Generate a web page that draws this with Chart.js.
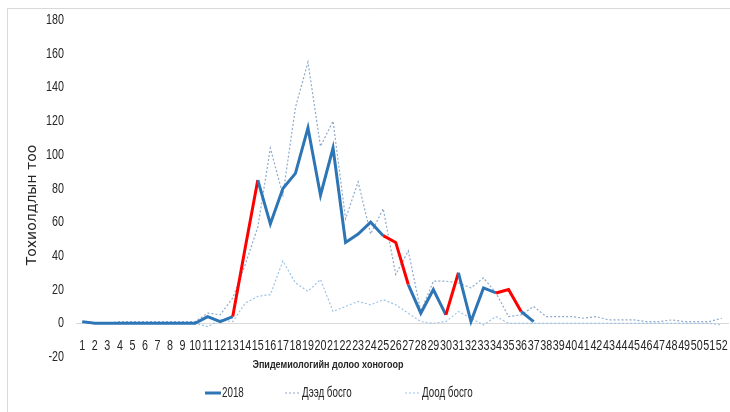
<!DOCTYPE html>
<html>
<head>
<meta charset="utf-8">
<script src="https://cdn.jsdelivr.net/npm/chart.js@4.4.1/dist/chart.umd.min.js"></script>
<style>
  body { margin: 0; background: #fff; }
</style>
</head>
<body>
<canvas id="myChart" width="730" height="412"></canvas>
<script>
// epidemiological weeks 1..52
var weeks = ['1','2','3','4','5','6','7','8','9','10','11','12','13','14','15','16','17','18','19','20',
  '21','22','23','24','25','26','27','28','29','30','31','32','33','34','35','36','37','38','39','40',
  '41','42','43','44','45','46','47','48','49','50','51','52'];

// 2018 cases (weeks 1..37)
var cases2018 = [1,0,0,0,0,0,0,0,0,0,4,1,4,45,85,59,80,89,116,76,
  104,48,53,60,52,48,23,6,20,5,30,1,21,18,20,7,1];

// upper threshold (Дээд босго)
var upperLimit = [1,0,0,1,1,1,1,1,1,1,6,5,15,35,57,104,76,128,155,105,
  120,62,84,53,68,29,43,7,25,25,24,21,27,18,4,5,10,4,4,4,
  3,4,2,2,2,1,1,2,1,1,1,3];

// lower threshold (Доод босго)
var lowerLimit = [0,0,0,0,0,0,0,0,0,0,-2,2,1,12,16,17,37,24,19,26,
  7,10,13,11,14,11,6,1,0,1,7,3,-1,4,0,0,0,0,0,0,
  0,0,0,0,0,0,0,0,0,0,0,-1];

// y axis ticks
var yMin = -20, yMax = 180, yStep = 20;

// weeks where the 2018 line segment starting there is drawn red
var redStarts = [13,14,25,26,30,34,35];

var sans = "'Liberation Sans', Arial, sans-serif";
var textColor = '#262626';

// narrow text (the original uses a condensed font)
function narrowText(ctx, txt, x, y, sx){
    ctx.save();
    ctx.translate(x, y);
    ctx.scale(sx, 1);
    ctx.fillText(txt, 0, 0);
    ctx.restore();
}

// tick labels, titles, legend and frame drawn on the canvas
var extras = {
    id: 'extras',
    afterDraw: function(chart){
        var ctx = chart.ctx;
        var xs = chart.scales.x, ys = chart.scales.y;
        ctx.save();
        // frame (top and left edge)
        ctx.strokeStyle = '#d9d9d9';
        ctx.lineWidth = 1;
        ctx.beginPath();
        ctx.moveTo(7.5, 412);
        ctx.lineTo(7.5, 8.5);
        ctx.lineTo(730, 8.5);
        ctx.stroke();

        ctx.fillStyle = textColor;
        ctx.textBaseline = 'middle';

        // y tick labels
        ctx.font = "14.5px " + sans;
        ctx.textAlign = 'right';
        ys.ticks.forEach(function(t){
            narrowText(ctx, String(t.value), chart.chartArea.left - 12, ys.getPixelForValue(t.value), 0.74);
        });

        // x tick labels
        ctx.textAlign = 'center';
        var yLab = ys.getPixelForValue(0) + 23;
        xs.ticks.forEach(function(t, i){
            narrowText(ctx, xs.getLabelForValue(t.value), xs.getPixelForTick(i), yLab, 0.74);
        });

        // y title
        ctx.save();
        ctx.font = "14px 'DejaVu Sans', sans-serif";
        ctx.translate(32, 205);
        ctx.rotate(-Math.PI/2);
        ctx.fillText('Тохиолдлын тоо', 0, 0);
        ctx.restore();

        // x title
        ctx.font = "bold 11px " + sans;
        narrowText(ctx, 'Эпидемиологийн долоо хоногоор', 328, 365, 0.82);

        // legend
        var legendX = [205, 285, 405];
        ctx.font = "14px " + sans;
        ctx.textAlign = 'left';
        chart.data.datasets.forEach(function(ds, i){
            var x = legendX[i], y = 393;
            ctx.strokeStyle = ds.borderColor;
            ctx.lineWidth = ds.borderWidth;
            ctx.setLineDash(ds.borderDash || []);
            ctx.beginPath();
            ctx.moveTo(x, y);
            ctx.lineTo(x + 16, y);
            ctx.stroke();
            ctx.setLineDash([]);
            narrowText(ctx, ds.label, x + 17, y, 0.7);
        });
        ctx.restore();
    }
};

var ctx = document.getElementById('myChart').getContext('2d');
var chart = new Chart(ctx, {
    type: 'line',
    data: {
        labels: weeks,
        datasets: [{
            label: '2018',
            data: cases2018,
            borderColor: '#2e75b6',
            borderWidth: 3,
            pointRadius: 0,
            tension: 0,
            segment: {
                borderColor: function(c){
                    return redStarts.indexOf(c.p0DataIndex + 1) >= 0 ? '#ff0000' : undefined;
                }
            },
            order: 0
        },{
            label: 'Дээд босго',
            data: upperLimit,
            borderColor: '#8eaacb',
            borderWidth: 1.2,
            borderDash: [2, 2],
            pointRadius: 0,
            tension: 0,
            order: 1
        },{
            label: 'Доод босго',
            data: lowerLimit,
            borderColor: '#9dc3e6',
            borderWidth: 1.2,
            borderDash: [2, 2],
            pointRadius: 0,
            tension: 0,
            order: 2
        }]
    },
    options: {
        responsive: false,
        animation: false,
        layout: {
            padding: { top: 20, right: 2, bottom: 55, left: 0 }
        },
        plugins: {
            legend: { display: false },
            tooltip: { enabled: false }
        },
        scales: {
            x: {
                type: 'category',
                offset: true,
                position: { y: 0 },
                grid: { display: false, drawTicks: false },
                border: { display: true, color: '#d9d9d9', width: 1 },
                ticks: { display: false, autoSkip: false, maxRotation: 0 }
            },
            y: {
                min: yMin,
                max: yMax,
                grid: { display: false, drawTicks: false },
                border: { display: false },
                afterFit: function(scale){ scale.width = 76; },
                ticks: { display: false, stepSize: yStep }
            }
        }
    },
    plugins: [extras]
});
</script>
</body>
</html>
